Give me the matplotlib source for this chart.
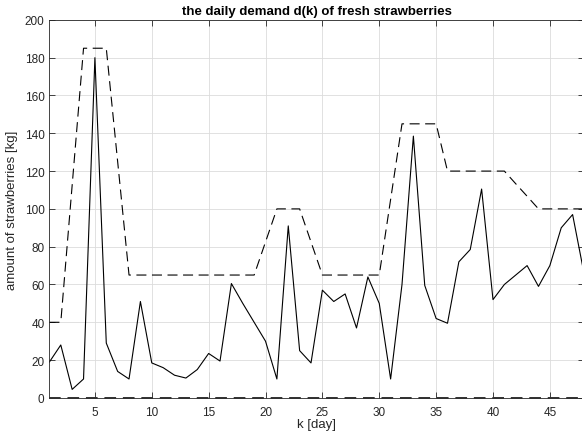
import matplotlib
matplotlib.use("Agg")
import matplotlib.pyplot as plt
import numpy as np

plt.rcParams["font.family"] = ["Liberation Sans", "DejaVu Sans"]

# day index
k = np.arange(1, 49)

# daily demand d(k) [kg]
demand = [19, 28, 4.5, 10, 180, 29, 14, 10, 51, 18.5,
          16, 12, 10.5, 15, 23.5, 19.5, 60.5, 50, 40, 30,
          10, 91, 25, 18.5, 57, 51, 55, 37, 64, 50,
          10, 60, 138.5, 59.5, 42, 39.5, 72, 78.5, 110.5, 52,
          60, 65, 70, 59, 70, 90, 97, 66]

# upper bound on demand [kg]
upper = [40, 40, 112.5, 185, 185, 185, 125, 65, 65, 65,
         65, 65, 65, 65, 65, 65, 65, 65, 65, 82.5,
         100, 100, 100, 82.5, 65, 65, 65, 65, 65, 65,
         105, 145, 145, 145, 145, 120, 120, 120, 120, 120,
         120, 113.3, 106.7, 100, 100, 100, 100, 100]

# lower bound on demand [kg]
lower = [0] * 48

fig = plt.figure(figsize=(5.82, 4.35), dpi=100)
ax = fig.add_axes([0.0849, 0.083, 0.9185, 0.869])

ax.plot(k, demand, color="black", linewidth=0.8)
ax.plot(k, upper, color="black", linewidth=0.8, dashes=(9, 5))
ax.plot(k, lower, color="#303030", linewidth=1.4, dashes=(6, 3.5), zorder=5, clip_on=False)

ax.set_xlim(1, 48)
ax.set_ylim(0, 200)
ax.set_xticks(np.arange(5, 48, 5))
ax.set_yticks(np.arange(0, 201, 20))

ax.grid(True, color="#dcdcdc", linewidth=0.6)
ax.set_axisbelow(True)
ax.tick_params(direction="in", top=True, right=True, labelsize=8.5,
               colors="#262626", length=4, width=0.6)
ax.tick_params(axis="x", pad=5.5)
for sp in ax.spines.values():
    sp.set_color("#262626")
    sp.set_linewidth(0.6)

ax.set_xlabel("k [day]", fontsize=9.5, color="#262626", labelpad=0)
ax.set_ylabel("amount of strawberries [kg]", fontsize=9.5, color="#262626", labelpad=5)
ax.set_title("the daily demand d(k) of fresh strawberries", fontsize=9.5,
             fontweight="bold", pad=4)

fig.savefig("out.png", dpi=100)
